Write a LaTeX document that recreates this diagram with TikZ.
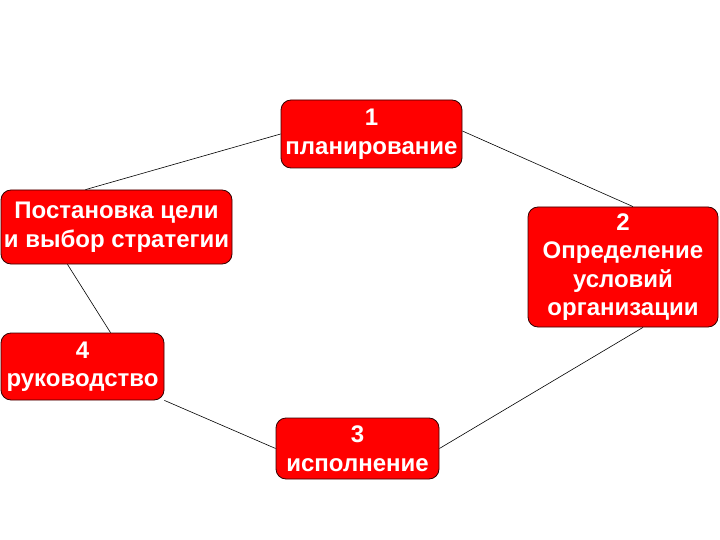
\documentclass[tikz,border=0pt]{standalone}
\usepackage{fontspec}
\setmainfont{Liberation Sans}
\usetikzlibrary{calc}

\tikzset{
 stage/.style={draw=black!80!red, line width=.8pt, fill=red, rounded corners=10pt,
   text=white, font=\fontsize{24}{28.5}\selectfont\bfseries, align=center,
   inner sep=0pt},
 link/.style={black, line width=.6pt}
}

\begin{document}
\begin{tikzpicture}[x=1pt, y=-1pt]
\useasboundingbox (0,0) rectangle (720,540);
\node[stage, minimum width=181pt, minimum height=68pt]  (plan) at (371.5,134) {1\\планирование};
\node[stage, minimum width=231pt, minimum height=74pt]  (goal) at (116.5,227) {Постановка цели\\и выбор стратегии};
\node[stage, minimum width=190pt, minimum height=120pt] (cond) at (623,267) {2\\Определение\\условий\\организации};
\node[stage, minimum width=163pt, minimum height=67pt]  (lead) at (82.5,366.5) {4\\руководство};
\node[stage, minimum width=163pt, minimum height=61pt]  (exec) at (357.5,448.5) {3\\исполнение};
\draw[link] (plan.west) -- ([xshift=-31pt]goal.north);
\draw[link] ([yshift=3pt]plan.east) -- ([xshift=10pt]cond.north);
\draw[link] ([xshift=20pt]cond.south) -- (exec.east);
\draw[link] (exec.west) -- (lead.south east);
\draw[link] ([xshift=28pt]lead.north) -- ([xshift=-49pt]goal.south);
\end{tikzpicture}
\end{document}
